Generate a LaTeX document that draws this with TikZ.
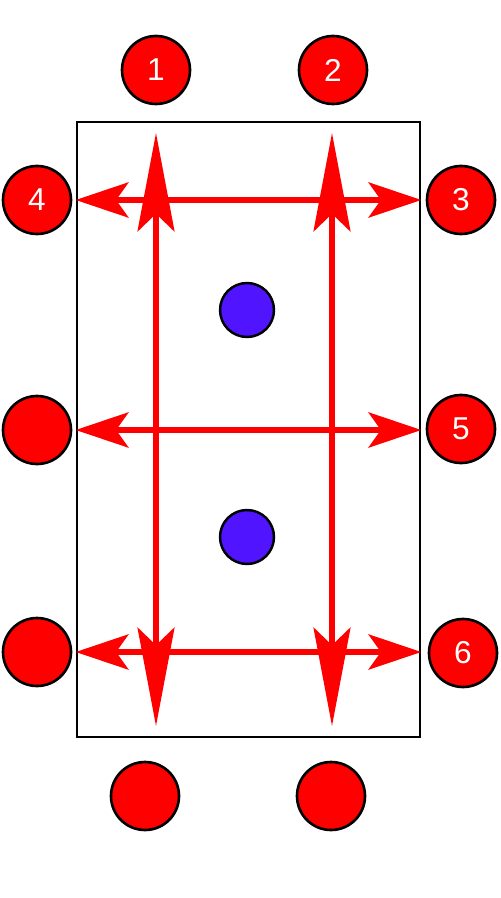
\documentclass[tikz,border=0pt]{standalone}
\usepackage{fontspec}
\setmainfont{Liberation Sans}
\usetikzlibrary{arrows.meta, positioning}
\definecolor{seatred}{RGB}{255, 0, 0}
\definecolor{ballblue}{RGB}{80, 20, 255}

\tikzset{
    seat/.style={circle, fill=seatred, draw=black, line width=1.5pt, minimum size=1.36cm, inner sep=0pt,
        text=white, font=\fontsize{18}{18}\selectfont},
    ball/.style={circle, fill=ballblue, draw=black, line width=1.4pt, minimum size=1.08cm, inner sep=0pt},
    moveH/.style={draw=seatred, line width=3pt,
        {Stealth[length=30pt, width=20pt, inset=7pt]}-{Stealth[length=30pt, width=20pt, inset=7pt]}},
    moveV/.style={draw=seatred, line width=3pt,
        {Stealth[length=56pt, width=21pt, inset=10pt]}-{Stealth[length=56pt, width=21pt, inset=10pt]}}
}

\begin{document}
\begin{tikzpicture}[x=0.02cm, y=-0.02cm]
        \useasboundingbox (0,0) rectangle (500,898);

        % Table
        \node[draw=black, line width=1.5pt, minimum width=6.86cm, minimum height=12.3cm] (table) at (248.5, 429.5) {};

        % Seats round the table
        \node[seat] (seat1) at (156, 70) {1};
        \node[seat] (seat2) at (333, 70) {2};
        \node[seat] (seat4) at (37, 200) {4};
        \node[seat] (seat3) at (461, 200) {3};
        \node[seat] (seatL) at (37, 430) {};
        \node[seat] (seat5) at (461, 429) {5};
        \node[seat] (seatB) at (37, 652) {};
        \node[seat] (seat6) at (463, 653) {6};
        \node[seat] (seatS1) at (145, 796) {};
        \node[seat] (seatS2) at (331, 796) {};

        % Balls
        \node[ball] (ballA) at (247, 310) {};
        \node[ball] (ballB) at (247, 537) {};

        % Ends of the vertical moves
        \coordinate (upA) at (156, 133);
        \coordinate (downA) at (156, 726);
        \coordinate (upB) at (332, 133);
        \coordinate (downB) at (332, 726);

        % Moves across
        \draw[moveH] (table.west |- seat4) -- (table.east |- seat4);
        \draw[moveH] (table.west |- seatL) -- (table.east |- seatL);
        \draw[moveH] (table.west |- seatB) -- (table.east |- seatB);

        % Moves along
        \draw[moveV] (upA) -- (downA);
        \draw[moveV] (upB) -- (downB);
    \end{tikzpicture}
\end{document}
